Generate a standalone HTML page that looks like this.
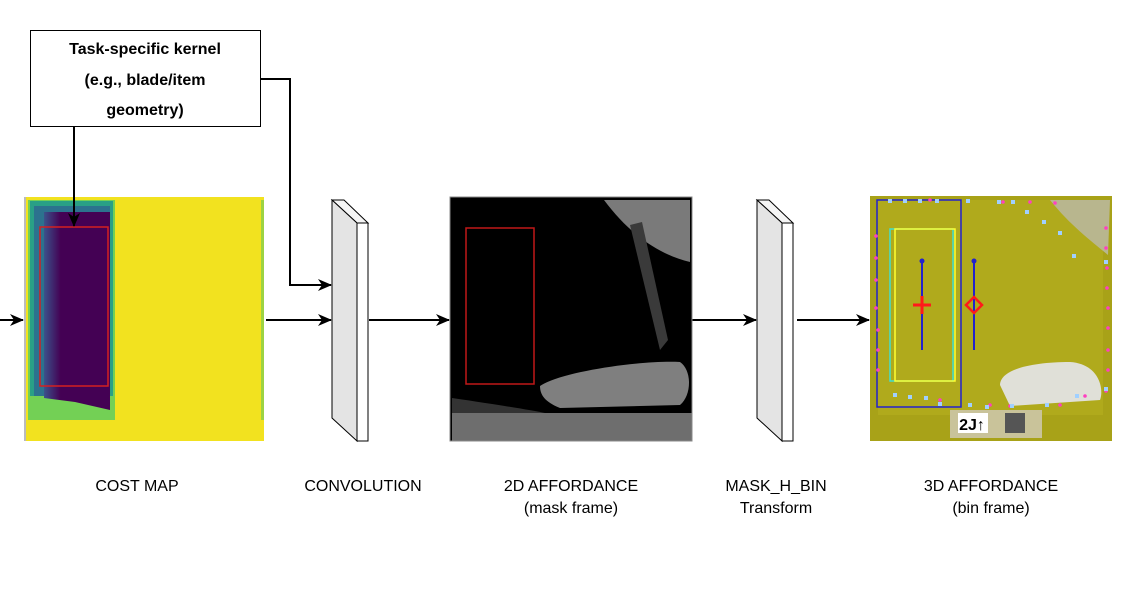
<!DOCTYPE html>
<html><head><meta charset="utf-8"><style>
html,body{margin:0;padding:0;background:#fff;}
svg{display:block;}
text{font-family:"Liberation Sans",sans-serif;}
</style></head><body>
<svg width="1134" height="606" viewBox="0 0 1134 606" xmlns="http://www.w3.org/2000/svg">
<defs>
<marker id="ah" markerWidth="14" markerHeight="12" refX="13" refY="6" orient="auto" markerUnits="userSpaceOnUse">
<path d="M0,0 L14,6 L0,12 L4,6 Z" fill="#000"/>
</marker>
<linearGradient id="pg" x1="0" x2="1" y1="0" y2="0">
<stop offset="0" stop-color="#3b528b"/><stop offset="0.25" stop-color="#440154"/><stop offset="1" stop-color="#440154"/>
</linearGradient>
</defs>

<rect x="30.5" y="30.5" width="230" height="96" fill="#fff" stroke="#000" stroke-width="1"/>
<text x="145" y="54" text-anchor="middle" font-size="16" font-weight="bold">Task-specific kernel</text>
<text x="145" y="85" text-anchor="middle" font-size="16" font-weight="bold">(e.g., blade/item</text>
<text x="145" y="115" text-anchor="middle" font-size="16" font-weight="bold">geometry)</text>

<rect x="24" y="197" width="240" height="244" fill="#f2e21f"/>
<rect x="24" y="197" width="2" height="244" fill="#bbb"/>
<rect x="261" y="200" width="3" height="220" fill="#9cd343"/>
<rect x="28" y="200" width="87" height="220" fill="#73d055"/>
<rect x="30" y="201" width="83" height="195" fill="#29a086"/>
<rect x="34" y="206" width="76" height="190" fill="#2c728e"/>
<path d="M44,212 L110,212 L110,410 L75,402 L44,398 Z" fill="url(#pg)"/>
<rect x="40" y="227" width="68" height="159" fill="none" stroke="#d42020" stroke-width="1.5"/>

<line x1="74" y1="127" x2="74" y2="226" stroke="#000" stroke-width="2" marker-end="url(#ah)"/>
<polyline points="261,79 290,79 290,285 331,285" fill="none" stroke="#000" stroke-width="2" marker-end="url(#ah)"/>

<line x1="0" y1="320" x2="23" y2="320" stroke="#000" stroke-width="2" marker-end="url(#ah)"/>
<line x1="266" y1="320" x2="331" y2="320" stroke="#000" stroke-width="2" marker-end="url(#ah)"/>
<line x1="369" y1="320" x2="449" y2="320" stroke="#000" stroke-width="2" marker-end="url(#ah)"/>
<line x1="692" y1="320" x2="756" y2="320" stroke="#000" stroke-width="2" marker-end="url(#ah)"/>
<line x1="797" y1="320" x2="869" y2="320" stroke="#000" stroke-width="2" marker-end="url(#ah)"/>

<g stroke="#000" stroke-width="1">
<polygon points="332,200 344,200 368,223 357,223" fill="#f5f5f5"/>
<polygon points="332,200 357,223 357,441 332,418" fill="#e4e4e4"/>
<rect x="357" y="223" width="11" height="218" fill="#fff"/>
</g>
<g stroke="#000" stroke-width="1">
<polygon points="757,200 769,200 793,223 782,223" fill="#f5f5f5"/>
<polygon points="757,200 782,223 782,441 757,418" fill="#e4e4e4"/>
<rect x="782" y="223" width="11" height="218" fill="#fff"/>
</g>

<rect x="450" y="197" width="242" height="244" fill="#000"/>
<path d="M604,200 L690,200 L690,262 C660,255 630,235 604,200 Z" fill="#7a7a7a"/>
<path d="M630,225 L642,222 L668,340 L660,350 Z" fill="#3a3a3a"/>
<path d="M540,386 C560,372 640,360 680,362 C692,370 692,395 680,405 L560,408 C545,402 540,395 540,386 Z" fill="#7f7f7f"/>
<path d="M452,398 C500,405 530,410 545,413 L545,420 L452,420 Z" fill="#333"/>
<rect x="452" y="413" width="240" height="28" fill="#6e6e6e"/>
<rect x="450" y="197" width="242" height="244" fill="none" stroke="#888" stroke-width="1"/>
<rect x="466" y="228" width="68" height="156" fill="none" stroke="#c01818" stroke-width="1.5"/>

<rect x="870" y="196" width="242" height="245" fill="#a8a218"/>
<rect x="878" y="200" width="225" height="215" fill="#b0aa1c"/>
<path d="M1050,200 L1110,200 L1108,255 C1090,240 1070,225 1050,200 Z" fill="#b8b68e"/>
<path d="M1000,385 C1000,370 1030,362 1070,362 C1100,364 1104,390 1100,400 L1010,406 Z" fill="#e0e0d8"/>
<rect x="950" y="410" width="92" height="28" fill="#c9c39a"/>
<rect x="958" y="413" width="30" height="20" fill="#fff"/>
<text x="972" y="430" text-anchor="middle" font-size="16" font-weight="bold">2J↑</text>
<rect x="1005" y="413" width="20" height="20" fill="#555"/>
<rect x="877" y="200" width="84" height="207" fill="none" stroke="#2222cc" stroke-width="1.5"/>
<rect x="890" y="229" width="63" height="152" fill="none" stroke="#40e0d0" stroke-width="1.5"/>
<rect x="895" y="229" width="60" height="152" fill="none" stroke="#ffff30" stroke-width="1.5"/>
<line x1="922" y1="261" x2="922" y2="350" stroke="#2222cc" stroke-width="2"/>
<circle cx="922" cy="261" r="2.5" fill="#2222cc"/>
<line x1="974" y1="261" x2="974" y2="350" stroke="#2222cc" stroke-width="2"/>
<circle cx="974" cy="261" r="2.5" fill="#2222cc"/>
<path d="M913,305 L931,305 M922,296 L922,314" stroke="#ff1a1a" stroke-width="3"/>
<polygon points="974,297 982,305 974,313 966,305" fill="none" stroke="#ff1a1a" stroke-width="2.5"/>
<g fill="#ff40c0">
<circle cx="876" cy="236" r="1.8"/><circle cx="876" cy="258" r="1.8"/><circle cx="876" cy="280" r="1.8"/><circle cx="876" cy="308" r="1.8"/><circle cx="878" cy="330" r="1.8"/><circle cx="878" cy="350" r="1.8"/><circle cx="878" cy="370" r="1.8"/>
<circle cx="1106" cy="228" r="1.8"/><circle cx="1106" cy="248" r="1.8"/><circle cx="1107" cy="268" r="1.8"/><circle cx="1107" cy="288" r="1.8"/><circle cx="1108" cy="308" r="1.8"/><circle cx="1108" cy="328" r="1.8"/><circle cx="1108" cy="350" r="1.8"/><circle cx="1108" cy="370" r="1.8"/><circle cx="1106" cy="391" r="1.8"/>
<circle cx="930" cy="200" r="1.8"/><circle cx="1003" cy="202" r="1.8"/><circle cx="1030" cy="202" r="1.8"/><circle cx="1055" cy="203" r="1.8"/>
<circle cx="940" cy="400" r="1.8"/><circle cx="990" cy="405" r="1.8"/><circle cx="1010" cy="406" r="1.8"/><circle cx="1060" cy="405" r="1.8"/><circle cx="1085" cy="396" r="1.8"/>
</g>
<g fill="#a0d0ff">
<rect x="888" y="199" width="4" height="4"/><rect x="903" y="199" width="4" height="4"/><rect x="918" y="199" width="4" height="4"/><rect x="935" y="199" width="4" height="4"/><rect x="966" y="199" width="4" height="4"/><rect x="997" y="200" width="4" height="4"/><rect x="1011" y="200" width="4" height="4"/>
<rect x="1025" y="210" width="4" height="4"/><rect x="1042" y="220" width="4" height="4"/><rect x="1058" y="231" width="4" height="4"/><rect x="1072" y="254" width="4" height="4"/><rect x="1104" y="260" width="4" height="4"/>
<rect x="893" y="393" width="4" height="4"/><rect x="908" y="395" width="4" height="4"/><rect x="924" y="396" width="4" height="4"/><rect x="938" y="402" width="4" height="4"/><rect x="968" y="403" width="4" height="4"/><rect x="985" y="405" width="4" height="4"/><rect x="1010" y="404" width="4" height="4"/><rect x="1045" y="403" width="4" height="4"/><rect x="1075" y="394" width="4" height="4"/><rect x="1104" y="387" width="4" height="4"/>
</g>

<g font-size="16" text-anchor="middle" fill="#000">
<text x="137" y="491">COST MAP</text>
<text x="363" y="491">CONVOLUTION</text>
<text x="571" y="491">2D AFFORDANCE</text>
<text x="571" y="513">(mask frame)</text>
<text x="776" y="491">MASK_H_BIN</text>
<text x="776" y="513">Transform</text>
<text x="991" y="491">3D AFFORDANCE</text>
<text x="991" y="513">(bin frame)</text>
</g>
</svg>
</body></html>
